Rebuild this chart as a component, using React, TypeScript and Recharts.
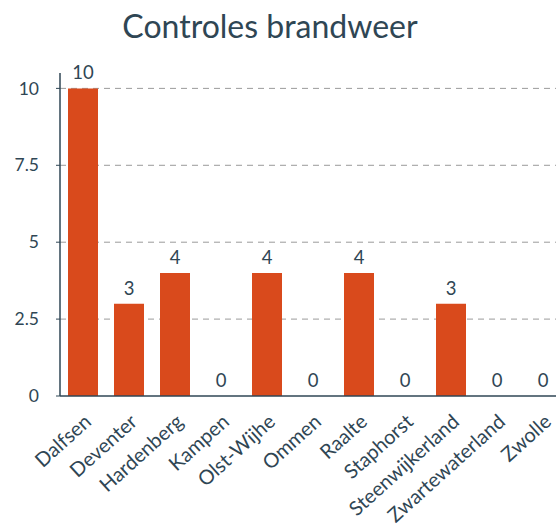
import { Bar, CartesianGrid, ComposedChart, LabelList, Line, XAxis, YAxis } from "recharts";

const gemeenten = [
  "Dalfsen",
  "Deventer",
  "Hardenberg",
  "Kampen",
  "Olst-Wijhe",
  "Ommen",
  "Raalte",
  "Staphorst",
  "Steenwijkerland",
  "Zwartewaterland",
  "Zwolle",
];
const controles = [10, 3, 4, 0, 4, 0, 4, 0, 3, 0, 0];
const yTicks = [0, 2.5, 5, 7.5, 10];

const data = gemeenten.map((naam, i) => ({ naam, aantal: controles[i] }));

const TEXT = "#2f4654";
const FONT = "Lato, 'Open Sans', sans-serif";

export default function App() {
  return (
    <div
      style={{
        position: "absolute",
        left: 0,
        top: 0,
        width: 556,
        height: 524,
        overflow: "hidden",
        background: "#fff",
        fontFamily: FONT,
      }}
    >
      <div
        style={{
          position: "absolute",
          left: 0,
          top: 6,
          width: 540,
          textAlign: "center",
          fontSize: 32,
          color: TEXT,
        }}
      >
        Controles brandweer
      </div>
      <div style={{ position: "absolute", left: 0, top: 0 }}>
        <ComposedChart
          width={580}
          height={524}
          data={data}
          margin={{ top: 73, right: 14, left: 0, bottom: 0 }}
        >
          <CartesianGrid
            vertical={false}
            stroke="#9a9a9a"
            strokeDasharray="6 5"
            horizontalValues={[2.5, 5, 7.5, 10]}
          />
          <XAxis
            dataKey="naam"
            interval={0}
            height={128}
            angle={-42}
            textAnchor="end"
            tickLine={false}
            axisLine={{ stroke: TEXT, strokeWidth: 1.5 }}
            tick={{ fontSize: 20, fill: TEXT, fontFamily: FONT }}
            tickMargin={11}
          />
          <YAxis
            width={60}
            domain={[0, 10.5]}
            ticks={yTicks}
            allowDecimals
            axisLine={{ stroke: TEXT, strokeWidth: 1.5 }}
            tickLine={{ stroke: TEXT }}
            tickSize={4}
            tick={{ fontSize: 17.5, fill: TEXT, fontFamily: FONT }}
            tickMargin={17}
          />
          <Bar dataKey="aantal" fill="#d94a1c" barSize={30} isAnimationActive={false} />
          {/* onzichtbare lijn, alleen voor de waardes boven de staven (ook de nullen) */}
          <Line
            dataKey="aantal"
            stroke="none"
            dot={false}
            activeDot={false}
            isAnimationActive={false}
          >
            <LabelList
              dataKey="aantal"
              position="top"
              offset={9}
              style={{ fontSize: 18.5, fill: TEXT, fontFamily: FONT }}
            />
          </Line>
        </ComposedChart>
      </div>
    </div>
  );
}
